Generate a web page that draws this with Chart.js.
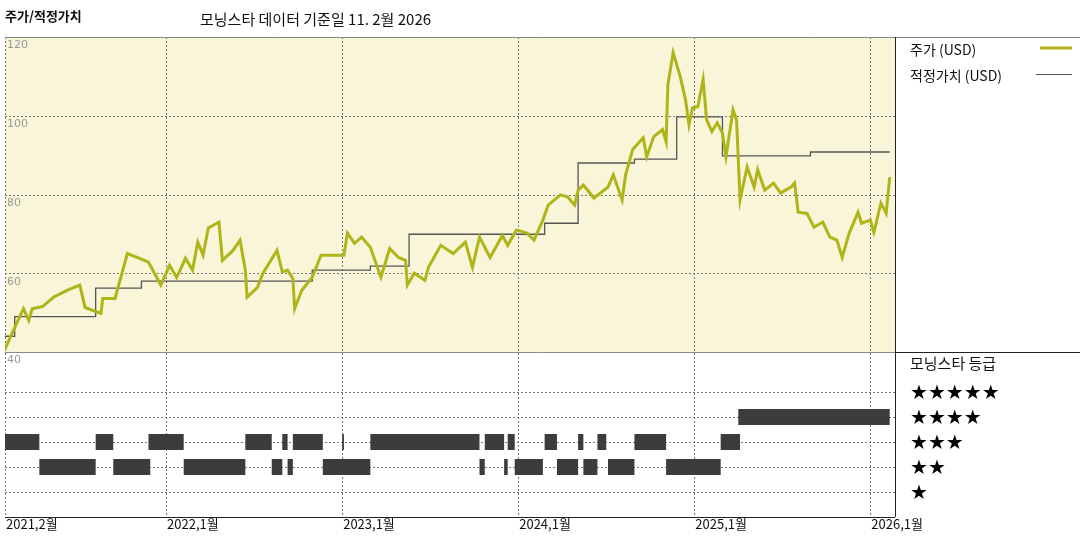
<!DOCTYPE html>
<html>
<head>
<meta charset="utf-8">
<script src="https://cdn.jsdelivr.net/npm/chart.js@4"></script>
<style>
  body { margin: 0; background: #fff; font-family: "Noto Sans CJK KR", sans-serif; }
  #wrap { position: relative; width: 1080px; height: 540px; }
  .t { position: absolute; white-space: nowrap; color: #111; }
  .star { position: absolute; left: 910px; font-size: 20px; line-height: 20px; letter-spacing: 0px; color: #000; font-family: "DejaVu Sans"; }
</style>
</head>
<body>
<div id="wrap">
  <canvas id="chart" width="1080" height="540"></canvas>
  <div class="t" style="left:5px;top:6px;font-size:13px;font-weight:bold">주가/적정가치</div>
  <div class="t" style="left:200px;top:8px;font-size:15px">모닝스타 데이터 기준일 11. 2월 2026</div>
  <div class="t" style="left:910px;top:39px;font-size:14px">주가 (USD)</div>
  <div class="t" style="left:910px;top:65px;font-size:14px">적정가치 (USD)</div>
  <div class="t" style="left:910px;top:352px;font-size:15px">모닝스타 등급</div>
  <div class="star" style="top:382px">★★★★★</div>
  <div class="star" style="top:407px">★★★★</div>
  <div class="star" style="top:432px">★★★</div>
  <div class="star" style="top:457px">★★</div>
  <div class="star" style="top:482px">★</div>
</div>
<script>
// x values are fractional years
var xTicks = [2021.085, 2022, 2023, 2024, 2025, 2026];
var xTickLabels = ["2021,2월", "2022,1월", "2023,1월", "2024,1월", "2025,1월", "2026,1월"];
var yTicks = [40, 60, 80, 100, 120];

var priceDates = [2021.08, 2021.14, 2021.19, 2021.22, 2021.24, 2021.30, 2021.36, 2021.44, 2021.51, 2021.54,
  2021.63, 2021.64, 2021.71, 2021.78, 2021.85, 2021.90, 2021.97, 2022.02, 2022.06, 2022.11,
  2022.15, 2022.18, 2022.21, 2022.24, 2022.30, 2022.32, 2022.38, 2022.42, 2022.45, 2022.46,
  2022.52, 2022.55, 2022.63, 2022.66, 2022.69, 2022.72, 2022.73, 2022.77, 2022.83, 2022.88,
  2022.95, 2023.01, 2023.03, 2023.07, 2023.11, 2023.16, 2023.22, 2023.27, 2023.32, 2023.36,
  2023.37, 2023.41, 2023.47, 2023.49, 2023.56, 2023.63, 2023.70, 2023.74, 2023.78, 2023.84,
  2023.91, 2023.94, 2023.99, 2024.05, 2024.09, 2024.14, 2024.17, 2024.24, 2024.28, 2024.32,
  2024.34, 2024.37, 2024.43, 2024.51, 2024.54, 2024.59, 2024.61, 2024.65, 2024.71, 2024.73,
  2024.77, 2024.82, 2024.84, 2024.85, 2024.88, 2024.92, 2024.95, 2024.97, 2024.99, 2025.02,
  2025.05, 2025.07, 2025.10, 2025.13, 2025.16, 2025.18, 2025.22, 2025.24, 2025.26, 2025.30,
  2025.34, 2025.36, 2025.40, 2025.45, 2025.49, 2025.55, 2025.57, 2025.59, 2025.64, 2025.68,
  2025.73, 2025.77, 2025.81, 2025.84, 2025.88, 2025.93, 2025.95, 2026.00, 2026.02, 2026.06,
  2026.09, 2026.11];
var priceValues = [40.3, 46.2, 51.0, 48.0, 51.0, 51.6, 53.9, 55.7, 57.0, 51.3,
  49.8, 53.6, 53.6, 65.0, 63.8, 62.8, 57.0, 62.0, 58.9, 63.8,
  60.8, 67.9, 64.6, 71.5, 73.0, 63.3, 65.8, 68.4, 60.8, 53.9,
  56.5, 60.0, 65.8, 60.3, 60.8, 58.7, 51.0, 55.6, 59.0, 64.6,
  64.6, 64.6, 70.2, 67.6, 69.2, 66.6, 59.0, 66.3, 64.0, 63.3,
  57.0, 60.0, 58.2, 61.5, 67.1, 65.0, 67.9, 61.5, 69.2, 64.0,
  69.6, 67.1, 71.0, 70.2, 68.4, 73.5, 77.3, 79.9, 79.4, 77.3,
  81.1, 82.4, 79.1, 81.9, 85.0, 78.6, 85.0, 91.4, 94.4, 89.6,
  94.7, 96.5, 93.4, 107.9, 116.0, 110.0, 104.1, 97.7, 102.0, 102.3,
  109.2, 99.0, 96.0, 98.2, 95.6, 89.6, 101.5, 99.0, 78.6, 87.0,
  81.9, 86.3, 81.1, 82.9, 80.4, 81.9, 82.9, 75.5, 75.2, 71.7,
  73.0, 69.2, 68.4, 64.0, 70.2, 75.5, 72.7, 73.5, 70.4, 77.8,
  75.2, 84.4];

var fairDates = [2021.08, 2021.14, 2021.60, 2021.86, 2022.83, 2023.16, 2023.38, 2024.15, 2024.34, 2024.66, 2024.90, 2025.16, 2025.66, 2025.82, 2026.11];
var fairValues = [41.5, 44.0, 49.0, 56.2, 58.0, 60.8, 61.8, 69.9, 72.7, 88.0, 89.0, 99.7, 89.8, 90.8, 90.8];

// star rating periods [start, end]
var rating2 = [[2021.28, 2021.60], [2021.70, 2021.91], [2022.10, 2022.45], [2022.60, 2022.66], [2022.69, 2022.72],
  [2022.89, 2023.16], [2023.78, 2023.81], [2023.92, 2023.94], [2023.98, 2024.14], [2024.22, 2024.34],
  [2024.37, 2024.45], [2024.51, 2024.66], [2024.84, 2025.15]];
var rating3 = [[2021.085, 2021.28], [2021.60, 2021.70], [2021.90, 2022.10], [2022.45, 2022.60], [2022.66, 2022.69],
  [2022.72, 2022.89], [2023.00, 2023.01], [2023.16, 2023.78], [2023.81, 2023.92], [2023.94, 2023.98],
  [2024.15, 2024.22], [2024.34, 2024.37], [2024.45, 2024.50], [2024.66, 2024.84], [2025.15, 2025.26]];
var rating4 = [[2025.25, 2026.11]];

function pts(xs, ys) {
  return xs.map(function(x, i) { return {x: x, y: ys[i]}; });
}
function segs(list, star) {
  var out = [];
  list.forEach(function(s) {
    out.push({x: s[0], y: star}, {x: s[1], y: star}, {x: s[1], y: null});
  });
  return out;
}
function ratingSet(list, star) {
  return {
    type: 'line', data: segs(list, star), yAxisID: 'yr',
    borderColor: '#3c3c3c', borderWidth: 16, borderCapStyle: 'butt',
    pointRadius: 0, spanGaps: false, order: 3
  };
}

var framePlugin = {
  id: 'frame',
  beforeDatasetsDraw: function(chart) {
    var c = chart.ctx, x = chart.scales.x, yp = chart.scales.yp, yr = chart.scales.yr;
    var l = x.getPixelForValue(2021.085), r = x.getPixelForValue(2026.14);
    var top = yp.getPixelForValue(120), mid = yp.getPixelForValue(40), bot = yr.getPixelForValue(0);
    c.save();
    c.fillStyle = '#f8f5d8';
    c.fillRect(l, top, r - l, mid - top);
    c.strokeStyle = '#777';
    c.lineWidth = 1;
    c.setLineDash([2, 2]);
    c.beginPath();
    [60, 80, 100].forEach(function(v) {
      var y = Math.round(yp.getPixelForValue(v)) + 0.5;
      c.moveTo(l, y); c.lineTo(r, y);
    });
    [1, 2, 3, 4, 5].forEach(function(v) {
      var y = Math.round(yr.getPixelForValue(v)) + 0.5;
      c.moveTo(l, y); c.lineTo(r, y);
    });
    xTicks.forEach(function(v) {
      var px = Math.round(x.getPixelForValue(v)) + 0.5;
      c.moveTo(px, top); c.lineTo(px, bot);
    });
    c.stroke();
    c.setLineDash([]);
    c.strokeStyle = '#888';
    c.beginPath();
    c.moveTo(l, Math.round(top) + 0.5); c.lineTo(1080, Math.round(top) + 0.5);
    c.moveTo(l, Math.round(mid) + 0.5); c.lineTo(1080, Math.round(mid) + 0.5);
    c.stroke();
    c.strokeStyle = '#222';
    c.beginPath();
    c.moveTo(Math.round(r) + 0.5, top); c.lineTo(Math.round(r) + 0.5, bot);
    c.moveTo(l, Math.round(bot) + 0.5); c.lineTo(r, Math.round(bot) + 0.5);
    c.moveTo(r, Math.round(mid) + 0.5); c.lineTo(1080, Math.round(mid) + 0.5);
    c.stroke();
    // y labels inside the plot
    c.fillStyle = '#999';
    c.font = '11px "DejaVu Sans"';
    c.textBaseline = 'top';
    yTicks.forEach(function(v) {
      c.fillText(String(v), l + 2, yp.getPixelForValue(v) + 3);
    });
    // x labels
    c.fillStyle = '#111';
    c.font = '13px "Noto Sans CJK KR"';
    xTicks.forEach(function(v, i) {
      c.fillText(xTickLabels[i], x.getPixelForValue(v) + 1, bot + 1);
    });
    // legend swatches
    c.lineWidth = 3; c.strokeStyle = '#afb519';
    c.beginPath(); c.moveTo(1040, 48); c.lineTo(1072, 48); c.stroke();
    c.lineWidth = 1; c.strokeStyle = '#555';
    c.beginPath(); c.moveTo(1036, 74.5); c.lineTo(1072, 74.5); c.stroke();
    c.restore();
  }
};

new Chart(document.getElementById('chart'), {
  type: 'line',
  data: {
    datasets: [
      {data: pts(priceDates, priceValues), yAxisID: 'yp', borderColor: '#afb519', borderWidth: 3,
        pointRadius: 0, tension: 0, order: 1},
      {data: pts(fairDates, fairValues), yAxisID: 'yp', borderColor: '#555', borderWidth: 1.3,
        pointRadius: 0, stepped: 'after', order: 2},
      ratingSet(rating2, 2),
      ratingSet(rating3, 3),
      ratingSet(rating4, 4)
    ]
  },
  options: {
    responsive: false,
    animation: false,
    layout: {padding: {left: 5, right: 185, top: 37, bottom: 23}},
    plugins: {legend: {display: false}, tooltip: {enabled: false}},
    scales: {
      x: {type: 'linear', min: 2021.085, max: 2026.14, display: false},
      yr: {type: 'linear', min: 0, max: 6.6, stack: 'v', stackWeight: 165, offset: false,
        ticks: {display: false}, grid: {display: false}, border: {display: false},
        afterFit: function(s) { s.width = 0; }},
      yp: {type: 'linear', min: 40, max: 120, stack: 'v', stackWeight: 315, offset: false,
        ticks: {display: false}, grid: {display: false}, border: {display: false},
        afterFit: function(s) { s.width = 0; }}
    }
  },
  plugins: [framePlugin]
});
</script>
</body>
</html>
